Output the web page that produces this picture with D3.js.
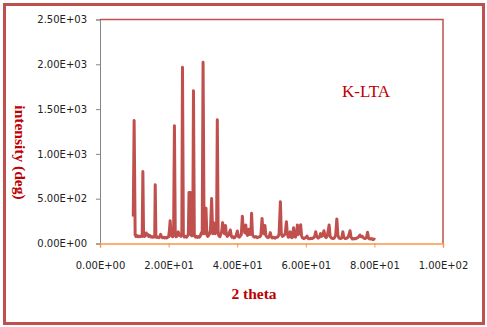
<!DOCTYPE html>
<html>
<head>
<meta charset="utf-8">
<script src="https://cdn.jsdelivr.net/npm/d3@7"></script>
<style>
  html, body { margin: 0; padding: 0; background: #fff; }
  svg { display: block; }
</style>
</head>
<body>
<svg id="chart" width="487" height="327"></svg>
<script>
// XRD pattern of K-LTA: 2θ (degrees) and measured intensity
const twoTheta = [
  9.7, 9.95, 10.25, 10.5, 10.8, 11.1, 11.4, 11.7, 12.0, 12.3, 12.5, 12.7, 12.95, 13.2, 13.45, 13.7, 13.95, 14.2, 14.5, 14.8,
  15.1, 15.4, 15.7, 15.95, 16.1, 16.3, 16.6, 16.9, 17.2, 17.5, 17.7, 17.9, 18.2, 18.5, 18.8, 19.1, 19.4, 19.7, 20.0, 20.25,
  20.45, 20.65, 20.9, 21.2, 21.45, 21.7, 21.95, 22.2, 22.5, 22.8, 23.0, 23.3, 23.6, 23.85, 24.05, 24.3, 24.6, 24.9, 25.2, 25.5,
  25.75, 25.95, 26.3, 26.5, 26.8, 27.05, 27.25, 27.5, 27.8, 28.1, 28.4, 28.7, 29.0, 29.3, 29.55, 29.8, 30.05, 30.35, 30.6, 30.9,
  31.15, 31.4, 31.7, 31.95, 32.2, 32.55, 32.85, 33.1, 33.3, 33.55, 33.8, 34.0, 34.2, 34.45, 34.7, 34.95, 35.2, 35.5, 35.75, 36.0,
  36.3, 36.6, 36.85, 37.1, 37.4, 37.7, 38.0, 38.25, 38.5, 38.8, 39.1, 39.4, 39.7, 40.05, 40.3, 40.6, 40.9, 41.2, 41.5, 41.75,
  42.0, 42.2, 42.5, 42.75, 43.0, 43.4, 43.7, 44.0, 44.2, 44.45, 44.7, 45.0, 45.4, 45.8, 46.2, 46.6, 46.9, 47.25, 47.5, 47.8,
  48.1, 48.35, 48.7, 49.0, 49.3, 49.65, 49.9, 50.2, 50.6, 51.0, 51.4, 51.8, 52.2, 52.6, 52.85, 53.2, 53.6, 54.0, 54.35, 54.6,
  54.9, 55.2, 55.45, 55.7, 56.0, 56.25, 56.45, 56.7, 57.0, 57.3, 57.55, 57.8, 58.1, 58.5, 58.75, 59.0, 59.4, 59.8, 60.1, 60.35,
  60.6, 61.0, 61.4, 61.8, 62.2, 62.6, 62.9, 63.2, 63.6, 64.0, 64.3, 64.6, 64.9, 65.3, 65.6, 65.9, 66.3, 66.8, 67.1, 67.5,
  67.9, 68.3, 68.7, 69.05, 69.35, 69.7, 70.1, 70.5, 70.8, 71.1, 71.5, 71.9, 72.3, 72.6, 72.9, 73.2, 73.6, 74.0, 74.4, 74.8,
  75.2, 75.5, 75.8, 76.1, 76.5, 76.9, 77.3, 77.7, 78.0, 78.3, 78.7, 79.1, 79.5, 79.9, 80.2
];
const intensity = [
  300, 1374, 95, 78, 88, 75, 82, 76, 85, 80, 803, 90, 78, 88, 118, 95, 100, 80, 90, 72,
  78, 70, 76, 72, 655, 75, 68, 72, 66, 80, 102, 76, 64, 70, 62, 68, 62, 70, 75, 150,
  255, 150, 82, 75, 90, 1315, 92, 75, 85, 130, 110, 90, 80, 100, 1968, 95, 72, 80, 70, 85,
  100, 570, 570, 95, 85, 100, 1706, 90, 72, 80, 68, 78, 70, 90, 120, 110, 2023, 110, 394, 394,
  100, 80, 90, 110, 150, 501, 110, 160, 230, 110, 150, 210, 1382, 110, 85, 75, 100, 140, 233, 140,
  110, 200, 100, 80, 90, 120, 151, 90, 70, 75, 62, 72, 90, 140, 80, 70, 85, 100, 305, 150,
  180, 120, 207, 110, 90, 160, 100, 130, 338, 100, 80, 70, 78, 65, 72, 75, 90, 280, 130, 110,
  200, 90, 70, 65, 75, 121, 80, 62, 70, 60, 68, 72, 100, 466, 110, 80, 90, 110, 244, 110,
  70, 90, 130, 70, 65, 120, 175, 80, 72, 110, 207, 100, 120, 210, 90, 65, 55, 62, 70, 84,
  60, 52, 58, 55, 62, 80, 132, 75, 60, 72, 110, 80, 90, 143, 80, 65, 90, 207, 80, 60,
  55, 60, 90, 274, 90, 60, 55, 62, 132, 70, 55, 58, 70, 100, 143, 70, 50, 55, 52, 60,
  65, 80, 95, 75, 80, 60, 55, 70, 125, 60, 50, 55, 45, 50, 40
];
const xTicks = [0, 20, 40, 60, 80, 100];
const yTicks = [0, 500, 1000, 1500, 2000, 2500];
const xTitle = "2 theta";
const yTitle = "intensity (deg)";
const sampleLabel = "K-LTA";

const svg = d3.select("#chart");
const plot = { left: 100, right: 443, top: 19.5, bottom: 243.5 };

const x = d3.scaleLinear().domain([0, 100]).range([plot.left, plot.right]);
const y = d3.scaleLinear().domain([0, 2500]).range([plot.bottom, plot.top]);

// Scientific notation like 2.50E+03
const sci = v => {
  if (v === 0) return "0.00E+00";
  const e = Math.floor(Math.log10(Math.abs(v)));
  const m = v / Math.pow(10, e);
  return m.toFixed(2) + "E" + (e < 0 ? "-" : "+") + String(Math.abs(e)).padStart(2, "0");
};

// Outer chart border
svg.append("rect")
  .attr("x", 4.5).attr("y", 4.5)
  .attr("width", 479).attr("height", 319)
  .attr("fill", "#fff")
  .attr("stroke", "#c0504d").attr("stroke-width", 3);

// Plot area outline (top and right)
svg.append("path")
  .attr("d", `M${plot.left},${plot.top}H${plot.right}V${plot.bottom}`)
  .attr("fill", "none")
  .attr("stroke", "#c0504d").attr("stroke-width", 1.5);

// Spectrum line
const line = d3.line()
  .x((d, i) => x(twoTheta[i]))
  .y(d => y(d));
svg.append("path")
  .datum(intensity)
  .attr("d", line)
  .attr("fill", "none")
  .attr("stroke", "#c0504d")
  .attr("stroke-width", 3)
  .attr("stroke-linejoin", "round");

// Y axis
const yAxis = svg.append("g")
  .attr("transform", `translate(${plot.left},0)`)
  .call(d3.axisLeft(y).tickValues(yTicks).tickFormat(sci).tickSize(4).tickPadding(9));
yAxis.select(".domain").attr("stroke", "#868686");
yAxis.selectAll(".tick line").attr("stroke", "#868686");
yAxis.selectAll("text")
  .attr("font-family", "DejaVu Sans, Verdana, sans-serif")
  .attr("font-size", 10).attr("fill", "#222");

// X axis
const xAxis = svg.append("g")
  .attr("transform", `translate(0,${plot.bottom})`)
  .call(d3.axisBottom(x).tickValues(xTicks).tickFormat(sci).tickSize(4).tickPadding(14));
xAxis.select(".domain").attr("stroke", "#f79646").attr("stroke-width", 1.5);
xAxis.selectAll(".tick line").attr("stroke", "#f79646");
xAxis.selectAll("text")
  .attr("font-family", "DejaVu Sans, Verdana, sans-serif")
  .attr("font-size", 10).attr("fill", "#222");

// Axis titles
svg.append("text")
  .attr("x", 254).attr("y", 299)
  .attr("text-anchor", "middle")
  .attr("font-family", "Liberation Serif, Times New Roman, serif")
  .attr("font-weight", "bold").attr("font-size", 15.5)
  .attr("fill", "#c00000")
  .text(xTitle);

svg.append("text")
  .attr("transform", "translate(15,152.5) rotate(90)")
  .attr("text-anchor", "middle")
  .attr("font-family", "Liberation Serif, Times New Roman, serif")
  .attr("font-weight", "bold").attr("font-size", 15.5)
  .attr("fill", "#c00000")
  .text(yTitle);

// Sample label
svg.append("text")
  .attr("x", 342).attr("y", 97)
  .attr("font-family", "Liberation Serif, Times New Roman, serif")
  .attr("font-size", 17)
  .attr("fill", "#c00000")
  .text(sampleLabel);
</script>
</body>
</html>
